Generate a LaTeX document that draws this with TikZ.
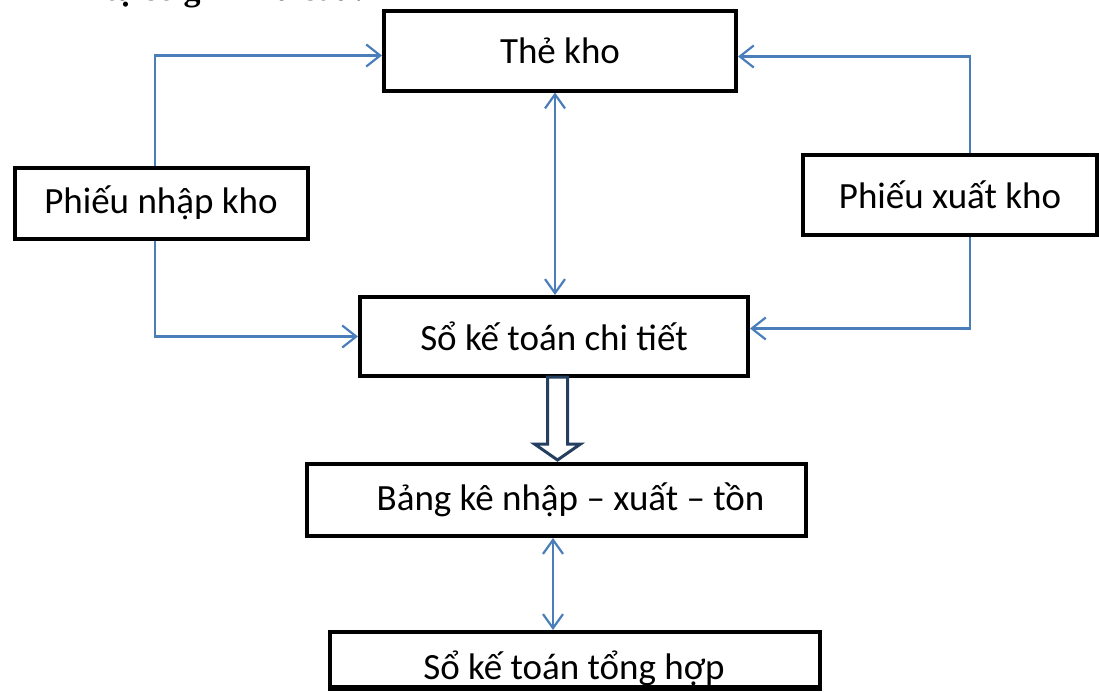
\documentclass[tikz,border=0pt]{standalone}
\usepackage{fontspec}
\setmainfont{Carlito}
\newfontfamily\headfont{Liberation Serif}
\usetikzlibrary{arrows.meta,calc}
\definecolor{linkblue}{HTML}{4A7EBB}
\definecolor{navyline}{HTML}{243F60}
\begin{document}
\begin{tikzpicture}[x=1pt,y=-1pt,
  box/.style={draw=black,line width=4pt,inner sep=0pt,fill=white,
    font=\fontsize{37}{41}\selectfont},
  conn/.style={draw=linkblue,line width=2.2pt,
    -{Straight Barb[length=14pt,width=22pt]}},
  both/.style={draw=linkblue,line width=2.2pt,
    {Straight Barb[length=14pt,width=20pt]}-{Straight Barb[length=14pt,width=20pt]}},
  bigarrow/.style={draw=navyline,line width=3pt,fill=white,line join=miter}]
\clip (0,0) rectangle (1099,691);

% heading line, mostly above the page edge
\node[anchor=base east,inner sep=0pt,font=\headfont\bfseries\fontsize{34}{38}\selectfont]
  (title) at (365,0.5) {Trình tự sổ ghi như sau:};

% boxes
\node[box,minimum width=352pt,minimum height=80pt] (the) at (560,50.5) {Thẻ kho};
\node[box,minimum width=293pt,minimum height=71pt] (pnk) at (161,203) {Phiếu nhập kho};
\node[box,minimum width=294pt,minimum height=80pt] (pxk) at (950,195) {Phiếu xuất kho};
\node[box,minimum width=388pt,minimum height=79pt] (sct) at (554,336.5) {Sổ kế toán chi tiết};
\node[box,minimum width=499pt,minimum height=72pt] (bk) at (556.5,500) {\hspace*{28pt}Bảng kê nhập – xuất – tồn};
\node[box,minimum width=490pt,minimum height=55pt] (sth) at (575,659.5) {};
\begin{scope}
  \clip (330,632) rectangle (820,685);
  \node[anchor=base,inner sep=0pt,font=\fontsize{37}{41}\selectfont] (sthtext) at (574,679) {Sổ kế toán tổng hợp};
\end{scope}
\draw[black,line width=4pt] (sth.south west) -- (sth.south east);

% connectors
\draw[conn] ([xshift=-6pt]pnk.north) |- ([yshift=-5pt]the.west);
\draw[conn] ([xshift=-6pt]pnk.south) |- (sct.west);
\draw[conn] ([xshift=20pt]pxk.north) |- ([yshift=-6pt]the.east);
\draw[conn] ([xshift=20pt]pxk.south) |- ([yshift=8pt]sct.east);
\draw[both] ([xshift=-5pt]the.south) -- ([xshift=1pt]sct.north);
\draw[both] ([xshift=-3.5pt]bk.south) -- ([xshift=-22pt]sth.north);

% hollow block arrow
\coordinate (ba) at ([xshift=3.5pt]sct.south);
\draw[bigarrow] ($(ba)+(-10,-1)$) -- ($(ba)+(-10,66)$) -- ($(ba)+(-23,66)$)
  -- ($(ba)+(0,82)$) -- ($(ba)+(23,66)$) -- ($(ba)+(10,66)$) -- ($(ba)+(10,-1)$) -- cycle;
\end{tikzpicture}
\end{document}
